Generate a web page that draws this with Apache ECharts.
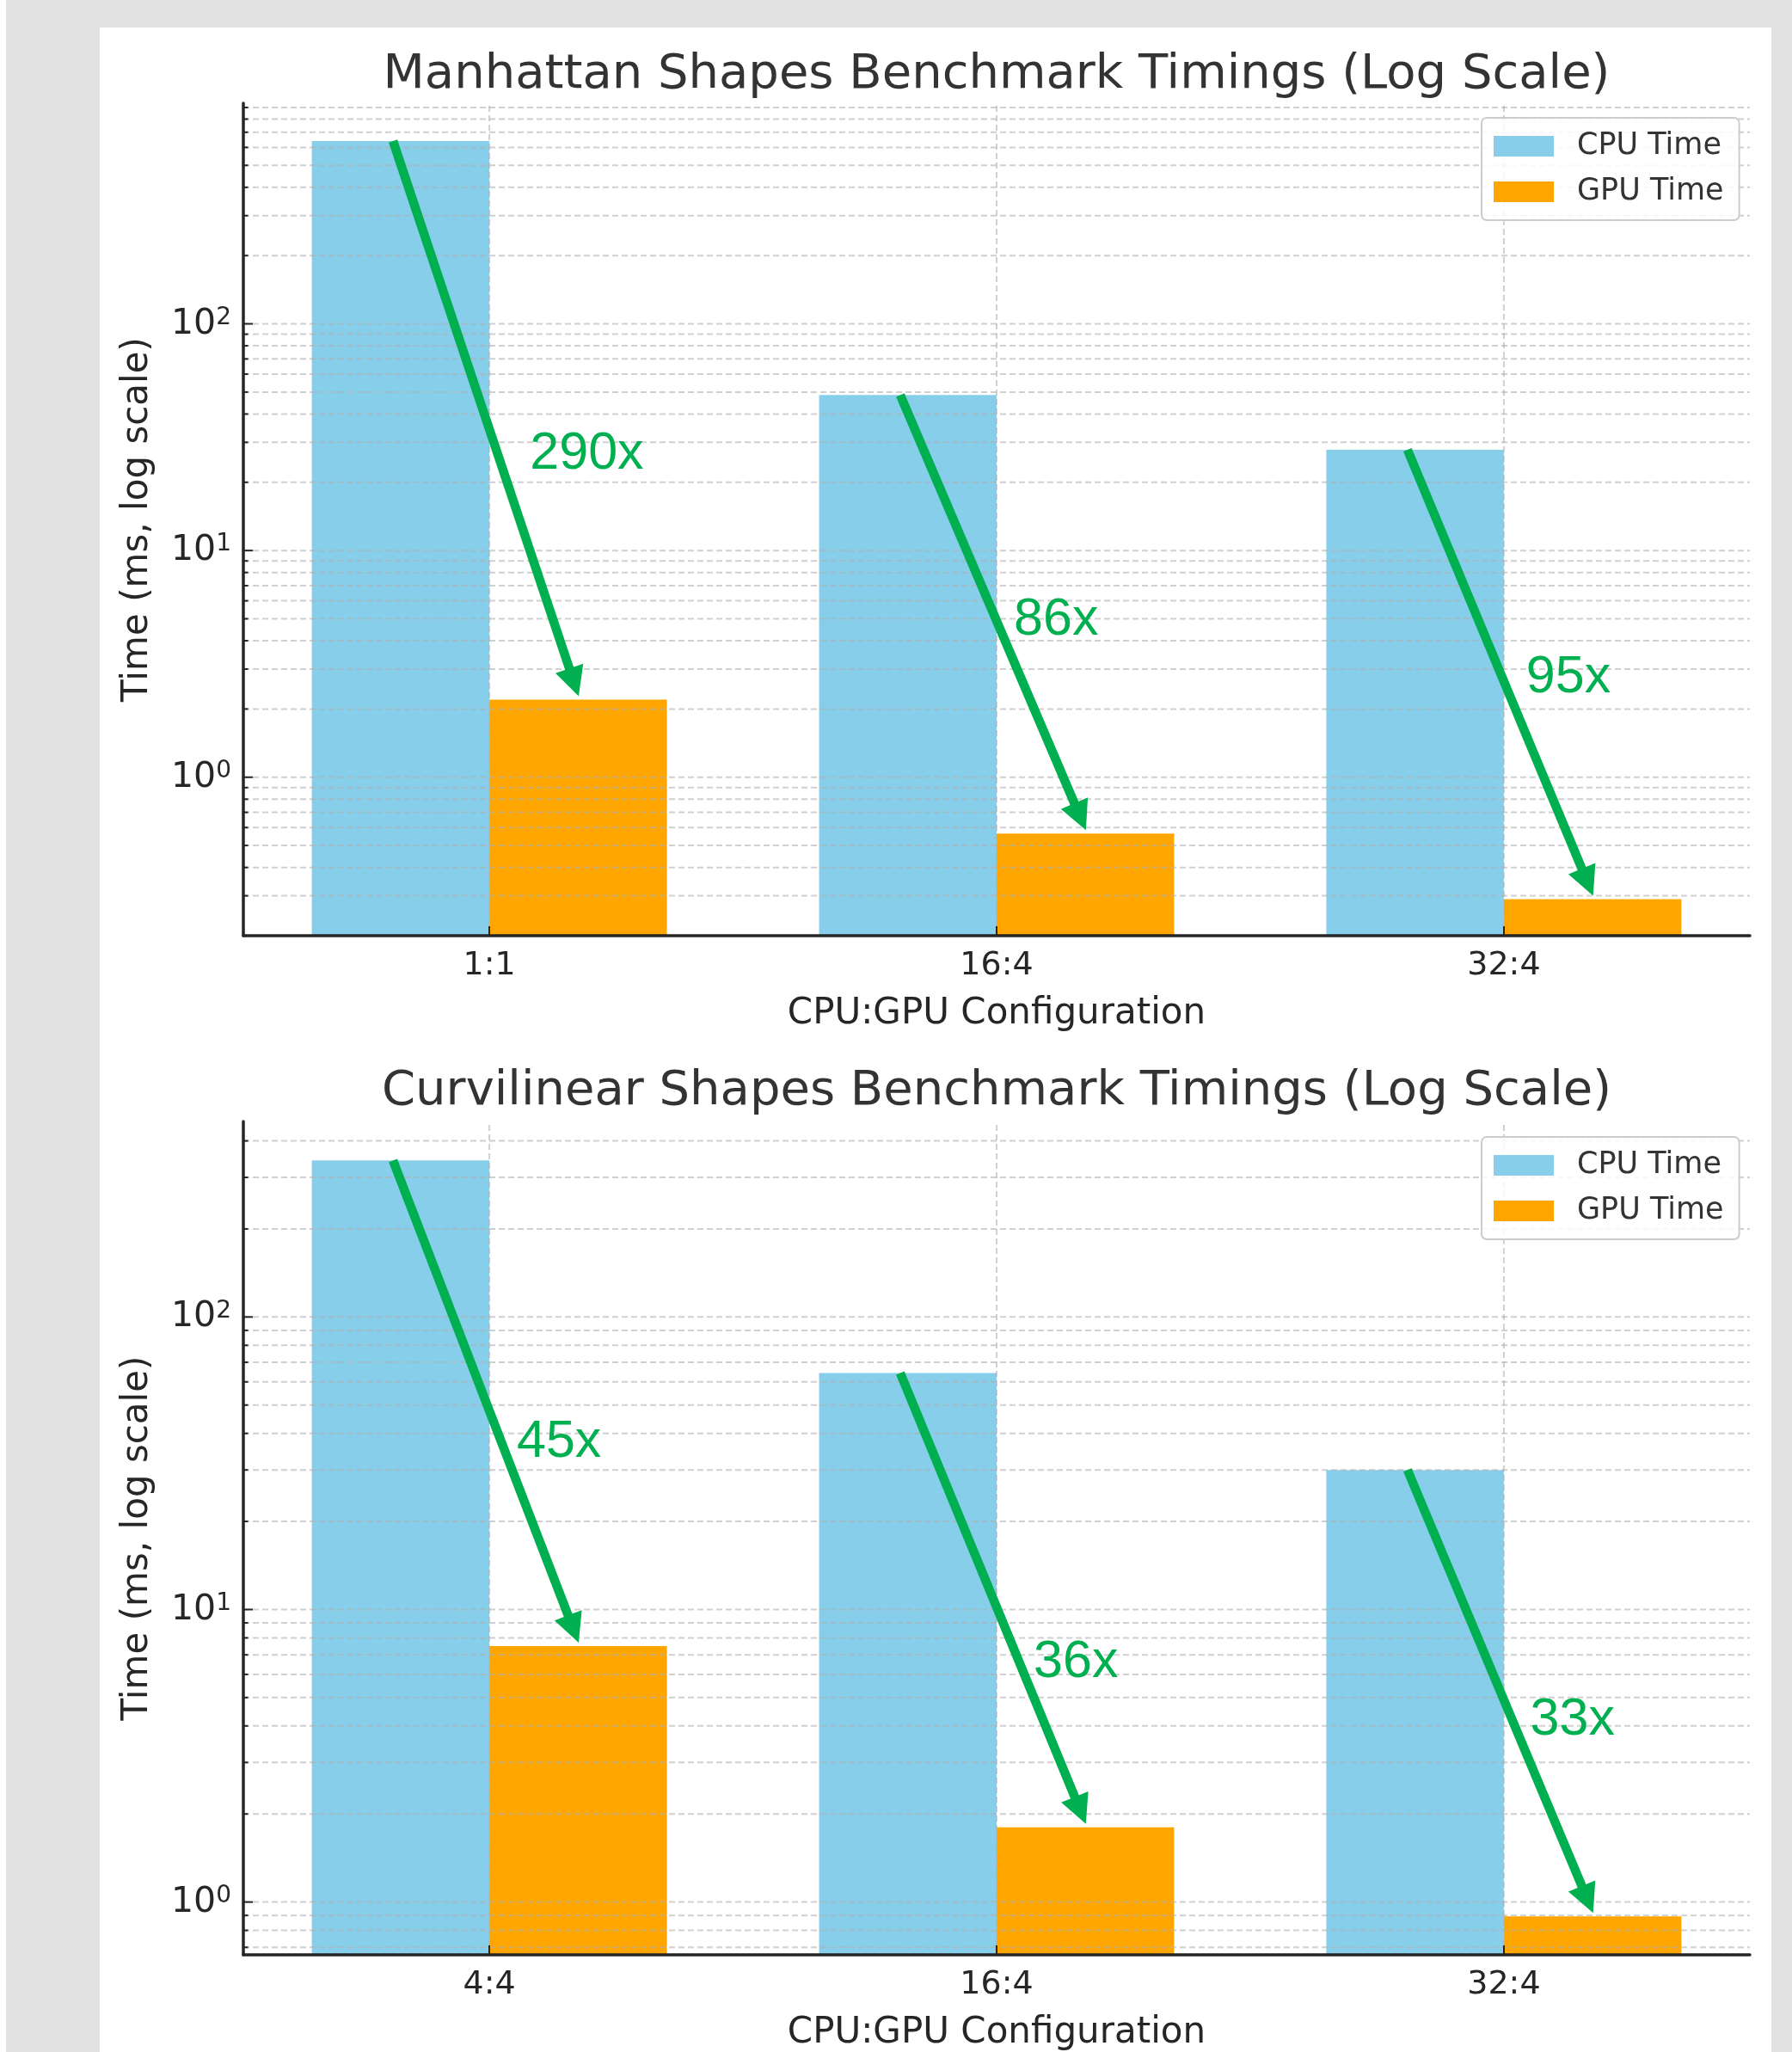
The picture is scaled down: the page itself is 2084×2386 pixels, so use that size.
<!DOCTYPE html>
<html>
<head>
<meta charset="utf-8">
<script src="https://cdn.jsdelivr.net/npm/echarts@6/dist/echarts.min.js"></script>
<style>
  html, body { margin: 0; padding: 0; background: #fff; }
  #page { position: relative; width: 2084px; height: 2386px; overflow: hidden; }
  #frame { position: absolute; left: 7px; top: 0; right: 0; bottom: 0; background: #e2e2e2; }
  #panel { position: absolute; left: 116px; top: 32px; width: 1944px; height: 2354px; background: #fff; }
  #chart { position: absolute; left: 0; top: 0; width: 2084px; height: 2386px; }
</style>
</head>
<body>
<div id="page"><div id="frame"></div><div id="panel"></div><div id="chart"></div></div>
<script>
// data
const topTitle = 'Manhattan Shapes Benchmark Timings (Log Scale)';
const topCategories = ['1:1', '16:4', '32:4'];
const topCpu = [640, 48.5, 27.8];
const topGpu = [2.2, 0.564, 0.29];
const topSpeedups = ['290x', '86x', '95x'];

const bottomTitle = 'Curvilinear Shapes Benchmark Timings (Log Scale)';
const bottomCategories = ['4:4', '16:4', '32:4'];
const bottomCpu = [343, 64.3, 30.0];
const bottomGpu = [7.5, 1.80, 0.893];
const bottomSpeedups = ['45x', '36x', '33x'];

// log axis gridlines / ticks
const logGridValues = [0.2, 0.3, 0.4, 0.5, 0.6, 0.7, 0.8, 0.9,
  1, 2, 3, 4, 5, 6, 7, 8, 9,
  10, 20, 30, 40, 50, 60, 70, 80, 90,
  100, 200, 300, 400, 500, 600, 700, 800, 900];
const majorTicks = [1, 10, 100];

// where the speedup text sits: [x offset from category, y value]
const topLabelPos = [[0.08, 26.7], [0.034, 4.93], [0.044, 2.74]];
const bottomLabelPos = [[0.054, 37.2], [0.073, 6.58], [0.052, 4.18]];

const FONT = 'DejaVu Sans';
const CPU_COLOR = '#87CEEB';
const GPU_COLOR = '#FFA500';
const ARROW_COLOR = '#00B050';
const TEXT = '#262626';
const BAR_W = 0.35;
const X_MIN = -0.485, X_MAX = 2.485;

const panels = [
  { title: topTitle, cats: topCategories, cpu: topCpu, gpu: topGpu, speed: topSpeedups, labelPos: topLabelPos,
    yMin: 0.2, yMax: 940, grid: { left: 283, top: 120, width: 1752, height: 968 }, titleTop: 59, legendTop: 137 },
  { title: bottomTitle, cats: bottomCategories, cpu: bottomCpu, gpu: bottomGpu, speed: bottomSpeedups, labelPos: bottomLabelPos,
    yMin: 0.66, yMax: 466, grid: { left: 283, top: 1304, width: 1752, height: 971 }, titleTop: 1241, legendTop: 1322 }
];

const chart = echarts.init(document.getElementById('chart'), null, { renderer: 'canvas' });

function isPow10(v) {
  const l = Math.log10(v);
  return Math.abs(l - Math.round(l)) < 1e-6;
}

const option = {
  animation: false,
  backgroundColor: 'transparent',
  title: [], grid: [], xAxis: [], yAxis: [], legend: [], series: []
};

panels.forEach((p, i) => {
  const catPos = p.cats.map((_, k) => k);

  option.title.push({
    text: p.title, left: p.grid.left + p.grid.width / 2, textAlign: 'center', top: p.titleTop, padding: 0,
    textStyle: { fontSize: 56, fontWeight: 'normal', color: '#333', fontFamily: FONT }
  });
  option.grid.push(Object.assign({ containLabel: false }, p.grid));

  option.xAxis.push({
    type: 'value', gridIndex: i, min: X_MIN, max: X_MAX, z: 4,
    axisLine: { show: true, onZero: false, lineStyle: { color: TEXT, width: 3.5 } },
    axisTick: { show: true, inside: true, length: 11, customValues: catPos, lineStyle: { color: TEXT, width: 2 } },
    axisLabel: { customValues: catPos, formatter: v => p.cats[Math.round(v)], fontSize: 38, color: TEXT, margin: 16, fontFamily: FONT },
    splitLine: { show: false },
    name: 'CPU:GPU Configuration', nameLocation: 'middle', nameGap: 70,
    nameTextStyle: { fontSize: 42, color: TEXT, fontFamily: FONT }
  });

  option.yAxis.push({
    type: 'log', logBase: 10, gridIndex: i, min: p.yMin, max: p.yMax, z: 4,
    axisLine: { show: true, onZero: false, lineStyle: { color: TEXT, width: 3.5 } },
    axisTick: { show: false }, splitLine: { show: false },
    axisLabel: {
      margin: 14, showMinLabel: true, showMaxLabel: true,
      formatter: v => isPow10(v) ? '{b|10}{s|' + Math.round(Math.log10(v)) + '}' : '',
      rich: {
        b: { fontSize: 41, color: TEXT, fontFamily: FONT, lineHeight: 42, verticalAlign: 'bottom' },
        s: { fontSize: 28, color: TEXT, fontFamily: FONT, lineHeight: 21, verticalAlign: 'top' }
      }
    },
    name: 'Time (ms, log scale)', nameLocation: 'middle', nameRotate: 90, nameGap: 102,
    nameTextStyle: { fontSize: 42, color: TEXT, fontFamily: FONT }
  });

  option.legend.push({
    orient: 'vertical', left: 1723, top: p.legendTop, data: ['CPU Time', 'GPU Time'],
    icon: 'rect', itemWidth: 70, itemHeight: 24, itemGap: 17, padding: [15, 18, 15, 14],
    backgroundColor: 'rgba(255,255,255,0.85)', borderColor: '#cccccc', borderWidth: 2, borderRadius: 6,
    selectedMode: false,
    textStyle: { fontSize: 35, color: '#333', fontFamily: FONT, lineHeight: 36, padding: [0, 0, 0, 22] }
  });

  const barSeries = (name, values, offset, color) => ({
    type: 'custom', name, xAxisIndex: i, yAxisIndex: i, z: 2,
    itemStyle: { color },
    data: values.map((v, k) => [k, v]),
    encode: { x: 0, y: 1 },
    renderItem: (params, api) => {
      const k = api.value(0), v = api.value(1);
      const a = api.coord([k + offset - BAR_W / 2, v]);
      const b = api.coord([k + offset + BAR_W / 2, p.yMin]);
      return { type: 'rect', shape: { x: a[0], y: a[1], width: b[0] - a[0], height: b[1] - a[1] }, style: { fill: color } };
    }
  });
  option.series.push(barSeries('CPU Time', p.cpu, -BAR_W / 2, CPU_COLOR));
  option.series.push(barSeries('GPU Time', p.gpu, BAR_W / 2, GPU_COLOR));

  // horizontal gridlines + inward ticks
  const gridStyle = { stroke: 'rgba(176,176,176,0.6)', lineWidth: 2, lineDash: [7, 4] };
  option.series.push({
    type: 'custom', name: 'hgrid', xAxisIndex: i, yAxisIndex: i, z: 3, silent: true,
    data: logGridValues.filter(v => v >= p.yMin && v <= p.yMax).map(v => [X_MIN, v]),
    encode: { x: 0, y: 1 },
    renderItem: (params, api) => {
      const v = api.value(1);
      const a = api.coord([X_MIN, v]);
      const b = api.coord([X_MAX, v]);
      const len = majorTicks.includes(v) ? 11 : 5.5;
      return {
        type: 'group', children: [
          { type: 'line', shape: { x1: a[0], y1: a[1], x2: b[0], y2: b[1] }, style: gridStyle },
          { type: 'line', shape: { x1: a[0], y1: a[1], x2: a[0] + len, y2: a[1] }, style: { stroke: TEXT, lineWidth: 2 } }
        ]
      };
    }
  });
  // vertical gridlines at categories
  option.series.push({
    type: 'custom', name: 'vgrid', xAxisIndex: i, yAxisIndex: i, z: 3, silent: true,
    data: catPos.map(k => [k, p.yMin]),
    encode: { x: 0, y: 1 },
    renderItem: (params, api) => {
      const k = api.value(0);
      const a = api.coord([k, p.yMin]);
      const b = api.coord([k, p.yMax]);
      return { type: 'line', shape: { x1: a[0], y1: a[1] - 12, x2: b[0], y2: b[1] }, style: gridStyle };
    }
  });

  // speedup arrows and labels
  option.series.push({
    type: 'custom', name: 'speedup', xAxisIndex: i, yAxisIndex: i, z: 5, silent: true,
    data: p.cpu.map((v, k) => [k, v, p.gpu[k]]),
    encode: { x: 0, y: 1 },
    renderItem: (params, api) => {
      const k = api.value(0);
      const s = api.coord([k - 0.19, api.value(1)]);
      const e = api.coord([k + 0.176, api.value(2)]);
      e[1] -= 4;
      const dx = e[0] - s[0], dy = e[1] - s[1];
      const len = Math.sqrt(dx * dx + dy * dy);
      const ux = dx / len, uy = dy / len;
      const HL = 34, HW = 17;
      const bx = e[0] - ux * HL, by = e[1] - uy * HL;
      const lp = api.coord([k + p.labelPos[k][0], p.labelPos[k][1]]);
      return {
        type: 'group', children: [
          { type: 'line', shape: { x1: s[0], y1: s[1], x2: bx + ux * 2, y2: by + uy * 2 }, style: { stroke: ARROW_COLOR, lineWidth: 10.5, lineCap: 'butt' } },
          { type: 'polygon', shape: { points: [[e[0], e[1]], [bx - uy * HW, by + ux * HW], [bx + uy * HW, by - ux * HW]] }, style: { fill: ARROW_COLOR } },
          { type: 'text', x: lp[0], y: lp[1], style: {
              text: p.speed[k], fill: ARROW_COLOR, fontSize: 61, fontFamily: 'Liberation Sans, Arial',
              align: 'left', verticalAlign: 'middle', textAlign: 'left', textVerticalAlign: 'middle' } }
        ]
      };
    }
  });
});

chart.setOption(option);
</script>
</body>
</html>
